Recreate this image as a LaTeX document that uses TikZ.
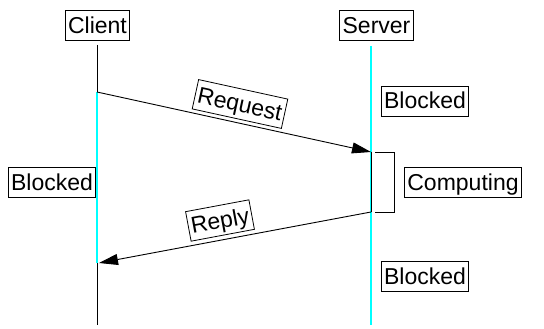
\documentclass[tikz,border=0pt]{standalone}
\usepackage{fontspec}
\setmainfont{Liberation Sans}
\usetikzlibrary{arrows.meta}
\definecolor{lifecyan}{RGB}{0,255,255}
\begin{document}
\begin{tikzpicture}[x=1pt,y=-1pt,
  lbl/.style={draw,line width=0.8pt,inner xsep=2.8pt,inner ysep=2pt,text height=21pt,text depth=5pt,font=\fontsize{23}{27}\selectfont},
  act/.style={line width=1pt,black},
  idle/.style={line width=1.3pt,lifecyan},
  msg/.style={line width=0.9pt,-{Triangle[length=19pt,width=11pt]}}]
\useasboundingbox (0,0) rectangle (544,329);
\node[lbl] (client) at (97.5,25.5) {Client};
\node[lbl] (server) at (376.5,25.5) {Server};
\coordinate (ctop) at (97,45);
\coordinate (creq) at (97,92);
\coordinate (crep) at (97,263);
\coordinate (cbot) at (97,325);
\coordinate (stop) at (371,46);
\coordinate (sreq) at (371,152);
\coordinate (srep) at (371,212);
\coordinate (sbot) at (371,325);
\coordinate (b1) at (394,152);
\coordinate (b2) at (394,212);
\coordinate (b1s) at (375,152);
\coordinate (b2s) at (375,212);
\draw[idle] (creq) -- (crep);
\draw[act] (ctop) -- (creq);
\draw[act] (crep) -- (cbot);
\draw[idle] (stop) -- (sbot);
\draw[act] (sreq) -- (srep);
\draw[line width=0.9pt] (b1s) -- (b1) -- (b2) -- (b2s);
\draw[msg] (creq) -- (sreq);
\draw[msg] (srep) -- ([xshift=2pt]crep);
\node[lbl,rotate=-12.35] (req) at (240,104) {Request};
\node[lbl,rotate=10.6] (rep) at (220,220.5) {Reply};
\node[lbl] (sblk1) at (425,101) {Blocked};
\node[lbl] (cblk) at (52,182) {Blocked};
\node[lbl] (comp) at (463,182) {Computing};
\node[lbl] (sblk2) at (425,276) {Blocked};
\end{tikzpicture}
\end{document}
